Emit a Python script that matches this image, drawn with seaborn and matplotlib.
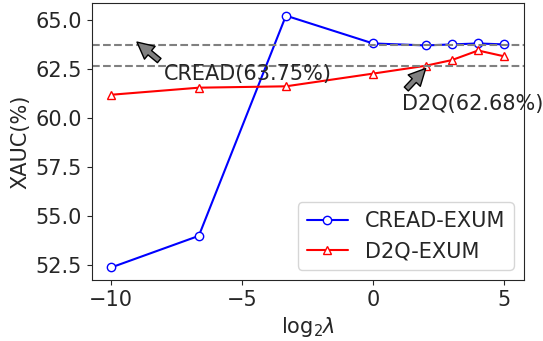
import numpy as np
import pandas as pd
import matplotlib
matplotlib.use("Agg")
import matplotlib.pyplot as plt
import seaborn as sns

# log2(lambda) grid and XAUC(%)
log2_lambda = [-9.97, -6.64, -3.32, 0, 2, 3, 4, 5]
cread_exum = [52.37, 53.98, 65.23, 63.81, 63.71, 63.76, 63.81, 63.76]
d2q_exum = [61.19, 61.55, 61.62, 62.27, 62.67, 62.96, 63.45, 63.15]
cread_base = 63.75
d2q_base = 62.68

sns.set_style("ticks")
plt.rcParams['font.family'] = ['DejaVu Sans']
plt.rcParams['font.size'] = 15

fig, ax = plt.subplots(figsize=(5.43, 3.41), dpi=100)
fig.subplots_adjust(left=0.169, right=0.965, top=0.991, bottom=0.179)

df = pd.DataFrame({"x": log2_lambda, "cread": cread_exum, "d2q": d2q_exum})

sns.lineplot(data=df, x="x", y="cread", ax=ax, color="blue", marker="o",
             markersize=6, markerfacecolor="white", markeredgecolor="blue",
             markeredgewidth=1, linewidth=1.5, label="CREAD-EXUM")
sns.lineplot(data=df, x="x", y="d2q", ax=ax, color="red", marker="^",
             markersize=6, markerfacecolor="white", markeredgecolor="red",
             markeredgewidth=1, linewidth=1.5, label="D2Q-EXUM")

ax.axhline(cread_base, color="gray", linestyle="--", linewidth=1.5)
ax.axhline(d2q_base, color="gray", linestyle="--", linewidth=1.5)

arrow = dict(facecolor="gray", edgecolor="black", linewidth=1, shrink=0.05)
ax.annotate(f"CREAD({cread_base:.2f}%)", xy=(-9.05, 63.94), xytext=(-7.97, 61.92),
            fontsize=15, arrowprops=arrow)
ax.annotate(f"D2Q({d2q_base:.2f}%)", xy=(2.05, 62.6), xytext=(1.1, 60.43),
            fontsize=15, arrowprops=arrow)

ax.set_xlabel(r"log$_2\lambda$", fontsize=15)
ax.set_ylabel("XAUC(%)", fontsize=15)
ax.set_yticks([52.5, 55.0, 57.5, 60.0, 62.5, 65.0])
ax.set_xticks([-10, -5, 0, 5])
ax.tick_params(labelsize=15)
ax.legend(loc="lower right", fontsize=15)

fig.savefig("out.png", dpi=100)
